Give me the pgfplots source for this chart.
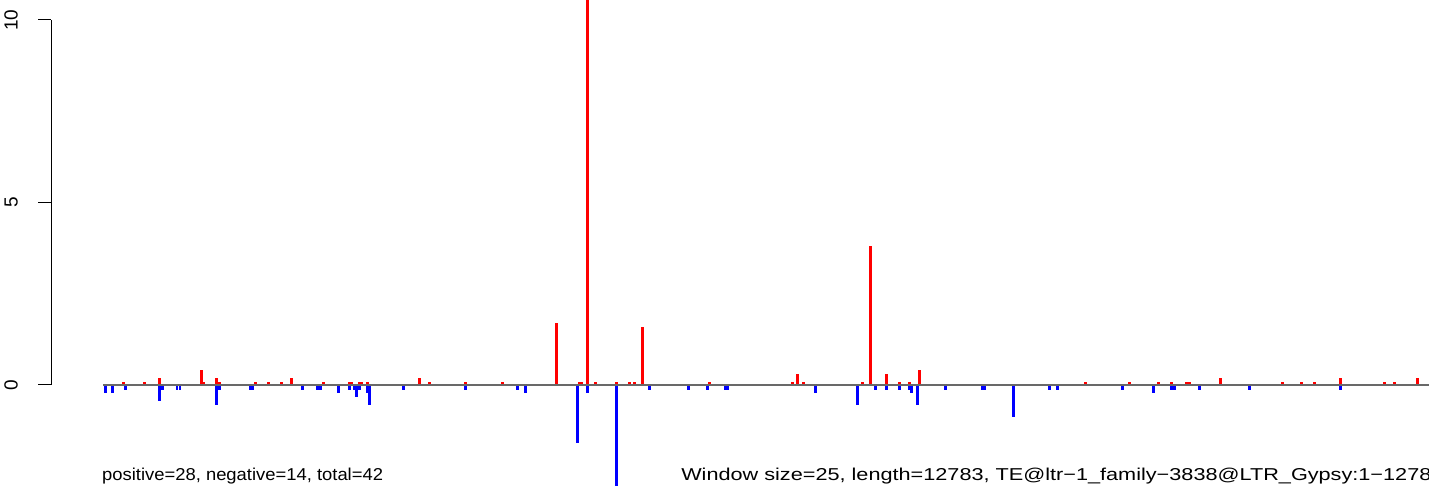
\documentclass[border=0pt]{standalone}
\usepackage{pgfplots}
\pgfplotsset{compat=1.18}
\usepackage{fontspec}
\setmainfont{Liberation Sans}
\definecolor{basegray}{RGB}{105,105,105}
\begin{document}
\begin{tikzpicture}
\useasboundingbox (0,0) rectangle (1429pt,493pt);
\begin{axis}[
  at={(51pt,0pt)}, anchor=south west,
  scale only axis, width=1378pt, height=493pt,
  xmin=51, xmax=1429, ymin=-2.959, ymax=10.548,
  axis x line=none, axis y line*=left,
  y axis line style={draw=none},
  ytick={0,5,10},
  tick align=outside, major tick length=13pt,
  ytick style={black, line width=1pt},
  yticklabel shift=20pt,
  yticklabel style={rotate=90, anchor=south, inner sep=0pt, font=\fontsize{19}{21}\selectfont},
  /pgf/number format/assume math mode=true,
  clip=true,
]
\addplot[ycomb, red, line width=2.7pt, mark=none] coordinates {
(123.3,0.09) (144.3,0.09) (159.3,0.19) (201.3,0.41) (203.7,0.09) (216.3,0.19)
(219.3,0.09) (255.3,0.09) (268.3,0.09) (281.3,0.09) (291.3,0.19) (323.3,0.09)
(349.3,0.09) (352,0.09) (359.3,0.09) (361.7,0.09) (367.3,0.09) (419.3,0.19)
(429.3,0.09) (465.3,0.09) (502.3,0.09) (556.3,1.71) (579.3,0.09) (582,0.09)
(587.3,11) (595.3,0.09) (616.3,0.09) (629.3,0.09) (634.3,0.09) (642.3,1.60)
(709.3,0.09) (792.3,0.09) (797.3,0.30) (803.3,0.09) (862.3,0.09) (870.3,3.81)
(886.3,0.30) (899.3,0.09) (909.3,0.09) (919.3,0.41) (1085.3,0.09) (1129.3,0.09)
(1158.3,0.09) (1171.3,0.09) (1186.3,0.09) (1189.3,0.09) (1220.3,0.19) (1282.3,0.09)
(1301.3,0.09) (1314.3,0.09) (1340.3,0.19) (1384.3,0.09) (1394.3,0.09) (1417.3,0.19)
};
\addplot[ycomb, blue, line width=2.7pt, mark=none] coordinates {
(105.3,-0.21) (112.3,-0.21) (125.3,-0.14) (159.3,-0.44) (162.3,-0.14) (177,-0.14)
(180,-0.14) (216.3,-0.55) (219.3,-0.14) (250,-0.14) (252.7,-0.14) (302.3,-0.14)
(317.3,-0.14) (320.3,-0.14) (338.3,-0.21) (349.3,-0.14) (354.3,-0.14) (356.3,-0.32)
(359.3,-0.14) (367.3,-0.21) (369.3,-0.55) (403.3,-0.14) (465.3,-0.14) (517.3,-0.14)
(525.3,-0.21) (577.3,-1.60) (587.3,-0.21) (616.3,-2.77) (649.3,-0.14) (688.3,-0.14)
(707.3,-0.14) (725.3,-0.14) (727.7,-0.14) (815.3,-0.21) (857.3,-0.55) (875.3,-0.14)
(886.3,-0.14) (899.3,-0.14) (909.3,-0.14) (911.3,-0.21) (917.3,-0.55) (945.3,-0.14)
(982.3,-0.14) (984.7,-0.14) (1013.3,-0.87) (1049.3,-0.14) (1057.3,-0.14) (1122.3,-0.14)
(1153.3,-0.21) (1171.3,-0.14) (1174.3,-0.14) (1199.3,-0.14) (1249.3,-0.14) (1340.3,-0.14)
};
\addplot[basegray, line width=1.2pt, mark=none] coordinates {(103,0) (1429,0)};
\draw[black, line width=1pt] (axis cs:51,0) -- (axis cs:51,10);
\end{axis}
\node[anchor=base west, inner sep=0pt, xscale=1.07, font=\fontsize{17.2}{20}\selectfont] at (102pt,12.5pt) {positive=28, negative=14, total=42};
\node[anchor=base west, inner sep=0pt, xscale=1.26, font=\fontsize{17.2}{20}\selectfont] at (681pt,12.5pt) {Window size=25, length=12783, TE@ltr−1\_family−3838@LTR\_Gypsy:1−12783};
\end{tikzpicture}
\end{document}
